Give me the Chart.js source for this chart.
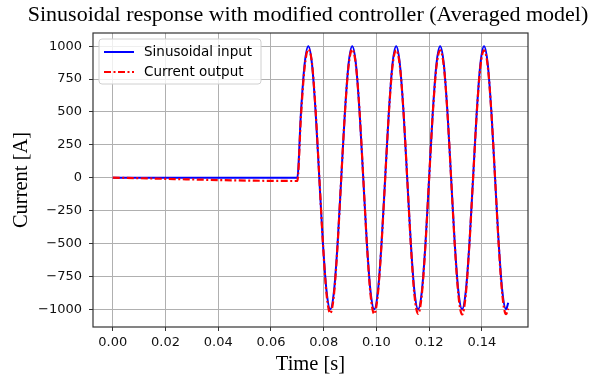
<!DOCTYPE html>
<html>
<head>
<meta charset="utf-8">
<script src="https://cdn.jsdelivr.net/npm/chart.js@4.4.0/dist/chart.umd.min.js"></script>
<style>
html, body { margin: 0; padding: 0; background: #fff; }
</style>
</head>
<body>
<canvas id="myChart" width="594" height="377"></canvas>
<script>
const chartTitle = "Sinusoidal response with modified controller (Averaged model)";
const xTitle = "Time [s]";
const yTitle = "Current [A]";
const seriesNames = ["Sinusoidal input", "Current output"];

// sample times (s)
const timeS = [0.0, 0.07000, 0.07139, 0.07278, 0.07417, 0.07556, 0.07694, 0.07833, 0.07972, 0.08111, 0.08250, 0.08389, 0.08528,
  0.08667, 0.08806, 0.08944, 0.09083, 0.09222, 0.09361, 0.09500, 0.09639, 0.09778, 0.09917, 0.10056, 0.10194,
  0.10333, 0.10472, 0.10611, 0.10750, 0.10889, 0.11028, 0.11167, 0.11306, 0.11444, 0.11583, 0.11722, 0.11861,
  0.12000, 0.12139, 0.12278, 0.12417, 0.12556, 0.12694, 0.12833, 0.12972, 0.13111, 0.13250, 0.13389, 0.13528,
  0.13667, 0.13806, 0.13944, 0.14083, 0.14222, 0.14361, 0.14500, 0.14639, 0.14778, 0.14917, 0.15000];

// blue line
const inputA = [0, 0, 500, 866, 1000, 866, 500, 0, -500, -866, -1000, -866, -500,
  0, 500, 866, 1000, 866, 500, 0, -500, -866, -1000, -866, -500,
  0, 500, 866, 1000, 866, 500, 0, -500, -866, -1000, -866, -500,
  0, 500, 866, 1000, 866, 500, 0, -500, -866, -1000, -866, -500,
  0, 500, 866, 1000, 866, 500, 0, -500, -866, -1000, -951];

// red dash-dot line
const outputA = [0, -25, 470, 840, 975, 870, 510, 10, -500, -890, -1030, -890, -510,
  0, 495, 850, 975, 855, 505, 5, -505, -890, -1035, -885, -505,
  -5, 490, 850, 970, 850, 500, 0, -510, -895, -1035, -890, -510,
  -5, 490, 845, 968, 850, 495, 0, -510, -895, -1040, -890, -505,
  -5, 490, 845, 968, 850, 495, 0, -510, -895, -1038, -995];

const xTicks = [0.00, 0.02, 0.04, 0.06, 0.08, 0.10, 0.12, 0.14];
const yTicks = [-1000, -750, -500, -250, 0, 250, 500, 750, 1000];

const toPoints = vals => timeS.map((t, i) => ({x: t, y: vals[i]}));

const tickFont = {family: "'DejaVu Sans'", size: 13};
const serifFont = {family: "'Liberation Serif'", size: 20.5};

const decoPlugin = {
    id: 'deco',
    afterDraw(chart) {
        const ctx = chart.ctx;
        const a = chart.chartArea;
        ctx.save();
        // frame round the plot
        ctx.strokeStyle = '#333';
        ctx.lineWidth = 1.2;
        ctx.strokeRect(a.left, a.top, a.right - a.left, a.bottom - a.top);
        // title
        ctx.fillStyle = '#000';
        ctx.font = "22px 'Liberation Serif'";
        ctx.textAlign = 'center';
        ctx.textBaseline = 'middle';
        ctx.fillText(chartTitle, 308, 15);
        // legend in the upper left corner
        const bx = 99, by = 39, bw = 162, bh = 45;
        ctx.beginPath();
        ctx.roundRect(bx, by, bw, bh, 3);
        ctx.fillStyle = 'rgba(255,255,255,0.8)';
        ctx.fill();
        ctx.strokeStyle = '#d0d0d0';
        ctx.lineWidth = 1;
        ctx.stroke();
        const rows = [52, 72];
        const colors = ['#0000ff', '#ff0000'];
        const dashes = [[], [7, 2.5, 2, 2.5]];
        ctx.textAlign = 'left';
        ctx.font = "13.5px 'DejaVu Sans'";
        for (let i = 0; i < 2; i++) {
            ctx.beginPath();
            ctx.setLineDash(dashes[i]);
            ctx.strokeStyle = colors[i];
            ctx.lineWidth = 2;
            ctx.moveTo(104, rows[i]);
            ctx.lineTo(134, rows[i]);
            ctx.stroke();
            ctx.setLineDash([]);
            ctx.fillStyle = '#000';
            ctx.fillText(seriesNames[i], 144, rows[i]);
        }
        ctx.restore();
    }
};

const ctx = document.getElementById("myChart").getContext("2d");
window.myChart = new Chart(ctx, {
    type: 'line',
    data: {
        datasets: [{
            label: seriesNames[0],
            data: toPoints(inputA),
            borderColor: '#0000ff',
            borderWidth: 2,
            pointRadius: 0,
            cubicInterpolationMode: 'monotone',
            order: 2
        }, {
            label: seriesNames[1],
            data: toPoints(outputA),
            borderColor: '#ff0000',
            borderWidth: 2.2,
            borderDash: [7, 2.5, 2, 2.5],
            pointRadius: 0,
            cubicInterpolationMode: 'monotone',
            order: 1
        }]
    },
    options: {
        responsive: false,
        animation: false,
        devicePixelRatio: 1,
        layout: {padding: {top: 33, right: 66, left: 0, bottom: 0}},
        plugins: {
            legend: {display: false},
            title: {display: false},
            tooltip: {enabled: false}
        },
        scales: {
            x: {
                type: 'linear',
                min: -0.0075,
                max: 0.1575,
                afterFit: scale => { scale.height = 50; },
                afterBuildTicks: scale => { scale.ticks = xTicks.map(v => ({value: v})); },
                ticks: {
                    font: tickFont, color: '#111', padding: 4, maxRotation: 0,
                    callback: v => v.toFixed(2)
                },
                grid: {color: '#b0b0b0', lineWidth: 1, tickColor: '#333', tickLength: 4},
                border: {display: false},
                title: {display: true, text: xTitle, font: serifFont, color: '#000', padding: {top: 0, bottom: 0}}
            },
            y: {
                type: 'linear',
                min: -1135,
                max: 1100,
                afterFit: scale => { scale.width = 93; },
                afterBuildTicks: scale => { scale.ticks = yTicks.map(v => ({value: v})); },
                ticks: {
                    font: tickFont, color: '#111', padding: 7,
                    callback: v => (v < 0 ? '\u2212' + Math.abs(v) : String(v))
                },
                grid: {color: '#b0b0b0', lineWidth: 1, tickColor: '#333', tickLength: 4},
                border: {display: false},
                title: {display: true, text: yTitle, font: serifFont, color: '#000', padding: {top: 9, bottom: 0}}
            }
        }
    },
    plugins: [decoPlugin]
});
</script>
</body>
</html>
